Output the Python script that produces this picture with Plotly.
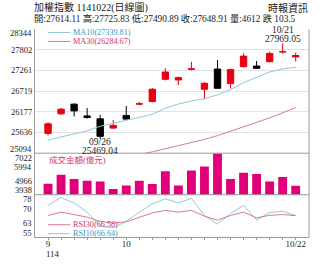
import plotly.graph_objects as go

# ---- data ----
dates = ["09/22", "09/23", "09/24", "09/25", "09/26", "09/30", "10/01", "10/02", "10/03", "10/07",
         "10/08", "10/09", "10/13", "10/14", "10/15", "10/16", "10/17", "10/20", "10/21", "10/22"]
opens = [25613, 26124, 26377, 26070, 25994, 25751, 26082, 26380, 26447, 27028,
         27010, 27290, 26767, 27296, 26916, 27359, 27375, 27489, 27745, 27614.11]
highs = [25900, 26280, 26400, 26275, 26098, 25967, 26332, 26440, 26800, 27315,
         27100, 27489, 26950, 27531, 27300, 27706, 27505, 27750, 27969.05, 27725.83]
lows = [25560, 26090, 26056, 26000, 25469.04, 25730, 25970, 26350, 26420, 27000,
        26880, 27260, 26507, 26780, 26786, 27340, 27300, 27470, 27700, 27490.89]
closes = [25863, 26246, 26202, 26030, 25535, 25822, 25986, 26385, 26767, 27218,
          27072, 27300, 26924, 26793, 27281, 27635, 27315, 27706, 27750, 27648.91]
ma10 = [25438, 25520, 25590, 25680, 25800, 25880, 25950, 26030, 26110, 26270,
        26380, 26460, 26520, 26620, 26760, 26940, 27090, 27220, 27300, 27339.81]
ma30 = [24700, 24760, 24810, 24860, 24900, 24950, 25000, 25060, 25130, 25210,
        25290, 25370, 25455, 25555, 25665, 25780, 25900, 26020, 26150, 26284.67]
volume = [4751, 5416, 5098, 4973, 4921, 4359, 4625, 4973, 4729, 5689,
          4625, 5734, 6030, 7022, 5098, 5564, 5468, 4921, 5246, 4612]
rsi10 = [72.3, 76.5, 73.5, 68.5, 61.0, 60.0, 63.5, 68.5, 73.0, 75.8,
         73.5, 76.0, 66.8, 62.0, 67.8, 72.2, 64.3, 68.3, 69.0, 66.64]
rsi30 = [66.7, 68.5, 67.2, 65.8, 63.5, 62.5, 63.3, 65.8, 68.1, 69.5,
         68.5, 69.5, 66.3, 64.2, 66.7, 68.5, 65.4, 66.8, 67.2, 66.58]

price_ticks = [28344, 27802, 27261, 26719, 26177, 25636, 25094]
vol_ticks = [7022, 5994, 4966, 3938]
rsi_ticks = [78, 70.33, 62.67, 55]
rsi_tick_text = ["78", "70", "63", "55"]
x_tick_text = {0: "9", 6: "10", 19: "10/22"}

title_line1 = "加權指數 1141022(日線圖)"
title_line2 = "開:27614.11 高:27725.83 低:27490.89 收:27648.91 量:4612 跌 103.5"
source = "時報資訊"

# ---- style ----
SERIF = "'Liberation Serif', 'Times New Roman', 'Noto Sans CJK TC', serif"
RED = "#e60012"
MAG = "#e2007a"
BLUE_L = "#93c6da"
PINK_L = "#d67a98"
BLUE_T = "#3a98bf"
PINK_T = "#d2346d"
GRID = "#e3e3e3"
AX = "#9a9a9a"

x = list(range(len(dates)))

fig = go.Figure()

fig.add_trace(go.Candlestick(
    x=x, open=opens, high=highs, low=lows, close=closes,
    increasing=dict(line=dict(color=RED, width=1), fillcolor=RED),
    decreasing=dict(line=dict(color="#000000", width=1), fillcolor="#000000"),
    whiskerwidth=0, xaxis="x", yaxis="y", showlegend=False, hoverinfo="skip"))
fig.add_trace(go.Scatter(x=x, y=ma10, mode="lines", line=dict(color=BLUE_L, width=1),
                         xaxis="x", yaxis="y", showlegend=False, hoverinfo="skip"))
fig.add_trace(go.Scatter(x=x, y=ma30, mode="lines", line=dict(color=PINK_L, width=1),
                         xaxis="x", yaxis="y", showlegend=False, hoverinfo="skip"))

fig.add_trace(go.Bar(x=x, y=volume, marker=dict(color=MAG, line=dict(width=0)), width=0.68,
                     xaxis="x", yaxis="y2", showlegend=False, hoverinfo="skip"))

fig.add_trace(go.Scatter(x=x, y=rsi10, mode="lines", line=dict(color=BLUE_L, width=1),
                         xaxis="x", yaxis="y3", showlegend=False, hoverinfo="skip"))
fig.add_trace(go.Scatter(x=x, y=rsi30, mode="lines", line=dict(color=PINK_L, width=1),
                         xaxis="x", yaxis="y3", showlegend=False, hoverinfo="skip"))

H_TOP = 28.5
H_BOT = 237.5
plot_h = H_BOT - H_TOP
d_price = (H_BOT - 153.3) / plot_h
d_vol = (H_BOT - 195.0) / plot_h


def py(pix):
    """paper y for a pixel row inside the plot area"""
    return 1 - (pix - H_TOP) / plot_h


fig.update_layout(
    width=330, height=265,
    margin=dict(l=35, r=21, t=H_TOP, b=265 - H_BOT, pad=0),
    paper_bgcolor="white", plot_bgcolor="white",
    boxgap=0.3,
    font=dict(family=SERIF, size=9, color="#222"),
    xaxis=dict(range=[-1.0, 20.02], tickvals=x,
               ticktext=[x_tick_text.get(i, "") for i in x],
               ticks="outside", ticklen=2, tickcolor=AX, ticklabelstandoff=-4,
               tickfont=dict(family=SERIF, size=9, color="#222"),
               showgrid=False, zeroline=False, showline=True, linecolor=AX, linewidth=1,
               rangeslider=dict(visible=False), anchor="y3", fixedrange=True),
    yaxis=dict(domain=[d_price, 1.0], range=[price_ticks[-1], price_ticks[0]],
               tickvals=price_ticks, showticklabels=False, ticks="",
               showgrid=True, gridcolor=GRID, gridwidth=1, zeroline=False,
               showline=True, linecolor=AX, linewidth=1, anchor="x"),
    yaxis2=dict(domain=[d_vol, d_price], range=[vol_ticks[-1], vol_ticks[0]],
                tickvals=vol_ticks, showticklabels=False, ticks="",
                showgrid=False, zeroline=False, showline=True, linecolor=AX, linewidth=1, anchor="x"),
    yaxis3=dict(domain=[0, d_vol], range=[rsi_ticks[-1], rsi_ticks[0]],
                tickvals=rsi_ticks, showticklabels=False, ticks="",
                showgrid=False, zeroline=False, showline=True, linecolor=AX, linewidth=1, anchor="x"),
)

# panel frame lines (right border and panel dividers)
fig.add_shape(type="line", xref="paper", yref="paper", x0=1, x1=1, y0=0, y1=1,
              line=dict(color=AX, width=1))
fig.add_shape(type="line", xref="paper", yref="paper", x0=0, x1=1, y0=d_price, y1=d_price,
              line=dict(color=AX, width=1))
fig.add_shape(type="line", xref="paper", yref="paper", x0=0, x1=1, y0=d_vol, y1=d_vol,
              line=dict(color=AX, width=1))

ann = []


def add_ticks(vals, texts, yref, shift=4):
    n = len(vals)
    for i, (v, t) in enumerate(zip(vals, texts)):
        ys = -shift if i == 0 else (shift if i == n - 1 else 0)
        ann.append(dict(xref="paper", x=0, xanchor="right", xshift=-1, yref=yref, y=v,
                        yanchor="middle", yshift=ys, text=t, showarrow=False,
                        font=dict(family=SERIF, size=8.5, color="#222")))


add_ticks(price_ticks, [str(v) for v in price_ticks], "y", 3.8)
add_ticks(vol_ticks, [str(v) for v in vol_ticks], "y2", 4.8)
add_ticks(rsi_ticks, rsi_tick_text, "y3", 4.2)

# titles
ann.append(dict(xref="paper", yref="paper", x=0, xshift=-3, y=1, yshift=21.5, xanchor="left", yanchor="middle",
                text=title_line1, showarrow=False, font=dict(family=SERIF, size=10, color="#222")))
ann.append(dict(xref="paper", yref="paper", x=1.0, y=1, yshift=21.5, xshift=1, xanchor="right", yanchor="middle",
                text=source, showarrow=False, font=dict(family=SERIF, size=10, color="#222")))
ann.append(dict(xref="paper", yref="paper", x=0, xshift=-3, y=1, yshift=10.5, xanchor="left", yanchor="middle",
                text=title_line2, showarrow=False, font=dict(family=SERIF, size=9.3, color="#222")))

# legends for MA and RSI
legend_rows = [
    (32.0, "MA10(%.2f)" % ma10[-1], BLUE_L, BLUE_T),
    (41.0, "MA30(%.2f)" % ma30[-1], PINK_L, PINK_T),
    (225.2, "RSI30(%.2f)" % rsi30[-1], PINK_L, PINK_T),
    (234.2, "RSI10(%.2f)" % rsi10[-1], BLUE_L, BLUE_T),
]
for pix, label, lc, tc in legend_rows:
    fig.add_shape(type="line", xref="x", yref="paper", x0=0, x1=1.7, y0=py(pix), y1=py(pix),
                  line=dict(color=lc, width=1))
    ann.append(dict(xref="x", x=1.75, xanchor="left", yref="paper", y=py(pix),
                    yanchor="middle", text=label, showarrow=False,
                    font=dict(family=SERIF, size=8.2, color=tc)))

# volume label
ann.append(dict(xref="x", x=0, xanchor="left", xshift=-1, yref="paper", y=py(160.5),
                yanchor="middle", text="成交金額(億元)", showarrow=False,
                font=dict(family=SERIF, size=8.5, color=PINK_T)))

# low / high annotations
i_lo = lows.index(min(lows))
i_hi = highs.index(max(highs))
ann.append(dict(xref="x", x=i_lo, yref="y", y=lows[i_lo], yanchor="middle", yshift=-3.5,
                text=dates[i_lo], showarrow=False, font=dict(family=SERIF, size=9.5, color="#222")))
ann.append(dict(xref="x", x=i_lo, yref="y", y=lows[i_lo], yanchor="middle", yshift=-12.3,
                text="%.2f" % lows[i_lo], showarrow=False, font=dict(family=SERIF, size=9.5, color="#222")))
ann.append(dict(xref="x", x=i_hi, yref="y", y=highs[i_hi], yanchor="middle", yshift=13,
                text=dates[i_hi], showarrow=False, font=dict(family=SERIF, size=9.5, color="#222")))
ann.append(dict(xref="x", x=i_hi, yref="y", y=highs[i_hi], yanchor="middle", yshift=4,
                text="%.2f" % highs[i_hi], showarrow=False, font=dict(family=SERIF, size=9.5, color="#222")))

# year under first month label
ann.append(dict(xref="x", x=0, xshift=4, yref="paper", y=0, yshift=-17, yanchor="middle",
                text="114", showarrow=False, font=dict(family=SERIF, size=8.8, color="#222")))

fig.update_layout(annotations=ann)
fig.write_html("out.html")
